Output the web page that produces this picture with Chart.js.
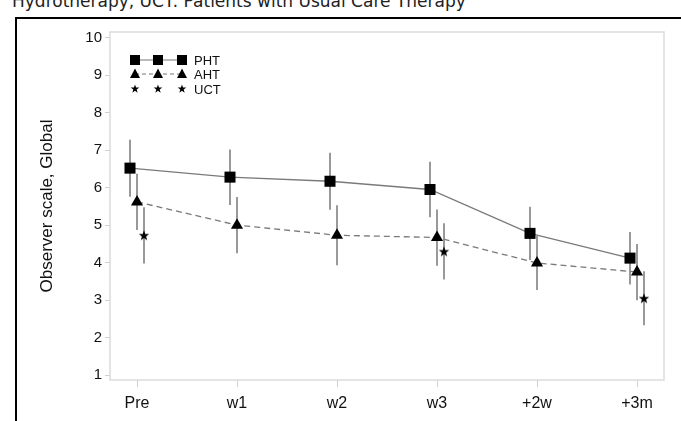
<!DOCTYPE html>
<html>
<head>
<meta charset="utf-8">
<script src="https://cdn.jsdelivr.net/npm/chart.js@4.4.1/dist/chart.umd.min.js"></script>
<style>
  html, body { margin: 0; padding: 0; background: #fff; overflow: hidden; }
  #wrap { position: relative; width: 681px; height: 421px; }
  #caption {
    position: absolute; left: 12px; top: -9px; white-space: nowrap;
    font-family: "DejaVu Sans", sans-serif; font-size: 17px; line-height: 20px; color: #222;
  }
  #frame {
    position: absolute; left: 15px; top: 17px; right: -5px; bottom: -5px;
    border-left: 2px solid #000; border-top: 2px solid #000;
  }
  canvas { position: absolute; left: 0; top: 0; }
</style>
</head>
<body>
<div id="wrap">
  <div id="caption">Hydrotherapy, UCT: Patients with Usual Care Therapy</div>
  <div id="frame"></div>
  <canvas id="chart" width="681" height="421"></canvas>
</div>
<script>
// time points
const categories = ['Pre', 'w1', 'w2', 'w3', '+2w', '+3m'];

// PHT (squares, solid line)
const phtMean = [6.52, 6.28, 6.17, 5.95, 4.78, 4.12];
const phtErr  = [0.76, 0.74, 0.76, 0.74, 0.71, 0.70];

// AHT (triangles, dashed line)
const ahtMean = [5.62, 5.00, 4.73, 4.67, 3.99, 3.75];
const ahtErr  = [0.75, 0.75, 0.80, 0.75, 0.72, 0.75];

// UCT (stars, no line) - only measured at three time points
const uctMean = [4.73, null, null, 4.30, null, 3.05];
const uctErr  = [0.75, null, null, 0.75, null, 0.72];

const yTicks = [1, 2, 3, 4, 5, 6, 7, 8, 9, 10];

// small horizontal shift so the groups don't overlap
const shifts = { PHT: -0.07, AHT: 0, UCT: 0.07 };

const FONT = '"Liberation Sans", Arial, sans-serif';

function toPoints(means, shift) {
    return means.map((v, i) => (v === null ? null : { x: i + shift, y: v }))
        .filter(p => p !== null);
}

function starPath(ctx, cx, cy, outer, inner) {
    ctx.beginPath();
    for (let k = 0; k < 10; k++) {
        const r = k % 2 === 0 ? outer : inner;
        const a = -Math.PI / 2 + k * Math.PI / 5;
        const px = cx + r * Math.cos(a);
        const py = cy + r * Math.sin(a);
        if (k === 0) ctx.moveTo(px, py); else ctx.lineTo(px, py);
    }
    ctx.closePath();
}

// filled five point star used as point style
const starImg = document.createElement('canvas');
starImg.width = 12;
starImg.height = 12;
(function () {
    const c = starImg.getContext('2d');
    c.fillStyle = '#000';
    starPath(c, 6, 6.5, 5.5, 2.2);
    c.fill();
})();

const errorSets = [
    { means: phtMean, errs: phtErr, shift: shifts.PHT },
    { means: ahtMean, errs: ahtErr, shift: shifts.AHT },
    { means: uctMean, errs: uctErr, shift: shifts.UCT }
];

// error bars, drawn under the markers
const errorBars = {
    id: 'errorBars',
    beforeDatasetsDraw(chart) {
        const { ctx, scales } = chart;
        ctx.save();
        ctx.strokeStyle = '#6e6e6e';
        ctx.lineWidth = 1.4;
        errorSets.forEach(set => {
            set.means.forEach((m, i) => {
                if (m === null) return;
                const x = scales.x.getPixelForValue(i + set.shift);
                const y1 = scales.y.getPixelForValue(m + set.errs[i]);
                const y2 = scales.y.getPixelForValue(m - set.errs[i]);
                ctx.beginPath();
                ctx.moveTo(x, y1);
                ctx.lineTo(x, y2);
                ctx.stroke();
            });
        });
        ctx.restore();
    }
};

// light grey box around the plot area
const plotBox = {
    id: 'plotBox',
    beforeDatasetsDraw(chart) {
        const { ctx, chartArea: a } = chart;
        ctx.save();
        ctx.strokeStyle = '#dcdcdc';
        ctx.lineWidth = 1.5;
        ctx.strokeRect(a.left, a.top, a.right - a.left, a.bottom - a.top);
        ctx.restore();
    }
};

// legend: three markers joined by the series line, then the name
const markerLegend = {
    id: 'markerLegend',
    afterDraw(chart) {
        const { ctx, chartArea: a } = chart;
        const xs = [a.left + 25, a.left + 48, a.left + 72];
        const rows = [
            { label: 'PHT', y: a.top + 28, kind: 'square', dash: [] },
            { label: 'AHT', y: a.top + 42, kind: 'triangle', dash: [4, 3] },
            { label: 'UCT', y: a.top + 57, kind: 'star', dash: null }
        ];
        ctx.save();
        rows.forEach(r => {
            if (r.dash) {
                ctx.strokeStyle = '#777';
                ctx.lineWidth = 1;
                ctx.setLineDash(r.dash);
                ctx.beginPath();
                ctx.moveTo(xs[0], r.y);
                ctx.lineTo(xs[2], r.y);
                ctx.stroke();
                ctx.setLineDash([]);
            }
            ctx.fillStyle = '#000';
            xs.forEach(x => {
                if (r.kind === 'square') {
                    ctx.fillRect(x - 5, r.y - 5, 10, 10);
                } else if (r.kind === 'triangle') {
                    ctx.beginPath();
                    ctx.moveTo(x, r.y - 5.5);
                    ctx.lineTo(x + 5, r.y + 4);
                    ctx.lineTo(x - 5, r.y + 4);
                    ctx.closePath();
                    ctx.fill();
                } else {
                    starPath(ctx, x, r.y, 4.5, 1.8);
                    ctx.fill();
                }
            });
            ctx.fillStyle = '#111';
            ctx.font = '13px ' + FONT;
            ctx.textBaseline = 'middle';
            ctx.fillText(r.label, xs[2] + 12, r.y + 1);
        });
        ctx.restore();
    }
};

const ctx = document.getElementById('chart').getContext('2d');
new Chart(ctx, {
    type: 'scatter',
    data: {
        datasets: [
            {
                label: 'PHT',
                data: toPoints(phtMean, shifts.PHT),
                showLine: true,
                borderColor: '#7a7a7a',
                borderWidth: 1.3,
                pointStyle: 'rect',
                pointRadius: 7.8,
                pointBackgroundColor: '#000',
                pointBorderColor: '#000',
                pointBorderWidth: 0
            },
            {
                label: 'AHT',
                data: toPoints(ahtMean, shifts.AHT),
                showLine: true,
                borderColor: '#7a7a7a',
                borderWidth: 1.3,
                borderDash: [6, 4],
                pointStyle: 'triangle',
                pointRadius: 7,
                pointBackgroundColor: '#000',
                pointBorderColor: '#000',
                pointBorderWidth: 0
            },
            {
                label: 'UCT',
                data: toPoints(uctMean, shifts.UCT),
                showLine: false,
                pointStyle: starImg,
                pointRadius: 6
            }
        ]
    },
    options: {
        responsive: false,
        animation: false,
        events: [],
        layout: { padding: { left: 33, top: 32, right: 17, bottom: 0 } },
        plugins: {
            legend: { display: false },
            tooltip: { enabled: false }
        },
        scales: {
            x: {
                type: 'linear',
                min: -0.27,
                max: 5.27,
                afterBuildTicks(axis) {
                    axis.ticks = categories.map((c, i) => ({ value: i }));
                },
                afterFit(axis) { axis.height = 41; },
                border: { display: false },
                grid: { drawOnChartArea: false, drawTicks: true, tickLength: 7, color: '#d0d0d0' },
                ticks: {
                    padding: 7,
                    color: '#111',
                    font: { family: FONT, size: 16 },
                    callback: (v) => categories[v]
                }
            },
            y: {
                min: 0.87,
                max: 10.15,
                afterBuildTicks(axis) {
                    axis.ticks = yTicks.map(v => ({ value: v }));
                },
                afterFit(axis) { axis.width = 77; },
                border: { display: false },
                grid: { drawOnChartArea: false, drawTicks: true, tickLength: 5, color: '#d0d0d0' },
                title: {
                    display: true,
                    text: 'Observer scale, Global',
                    color: '#111',
                    font: { family: FONT, size: 17 }
                },
                ticks: {
                    padding: 3,
                    color: '#111',
                    font: { family: FONT, size: 15 }
                }
            }
        }
    },
    plugins: [plotBox, errorBars, markerLegend]
});
</script>
</body>
</html>
